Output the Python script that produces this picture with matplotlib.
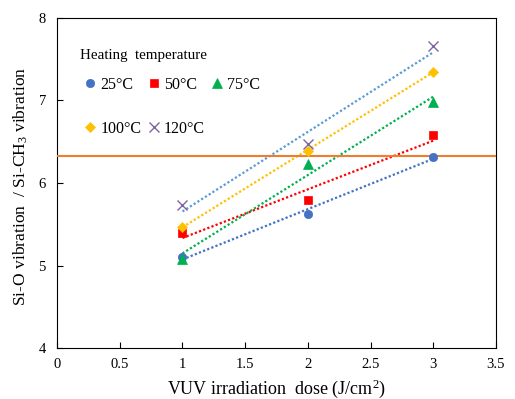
import numpy as np
import matplotlib
matplotlib.use("Agg")
import matplotlib.pyplot as plt

plt.rcParams['font.family'] = ['Liberation Serif', 'DejaVu Serif']
plt.rcParams['mathtext.fontset'] = 'custom'
plt.rcParams['mathtext.rm'] = 'Liberation Serif'
plt.rcParams['mathtext.it'] = 'Liberation Serif:italic'

dose = [1, 2, 3]
labels = ['25°C', '50°C', '75°C', '100°C', '120°C']
v25 = [5.10, 5.63, 6.32]
v50 = [5.40, 5.79, 6.58]
v75 = [5.08, 6.23, 6.98]
v100 = [5.47, 6.39, 7.35]
v120 = [5.73, 6.47, 7.66]
series = [v25, v50, v75, v100, v120]
ref_level = 6.33

marker_colors = ['#4472C4', '#FF0000', '#00B050', '#FFC000', '#8064A2']
trend_colors = ['#4472C4', '#FF0000', '#00B050', '#FFC000', '#5B9BD5']
markers = ['o', 's', '^', 'D', 'x']
msizes = [6, 5.5, 7, 5.5, 7]

fig = plt.figure(figsize=(5.15, 3.99), dpi=100)
ax = fig.add_axes([0.1107, 0.1278, 0.8524, 0.8271])

x = np.array(dose, dtype=float)
handles = []
for vals, lab, mc, tc, mk, ms in zip(series, labels, marker_colors, trend_colors, markers, msizes):
    # linear trendline through each series
    k, b = np.polyfit(x, vals, 1)
    ax.plot(x, k * x + b, color=tc, lw=1.6, linestyle=(0, (1, 1)), zorder=2)
    h, = ax.plot(x, vals, linestyle='none', marker=mk, color=mc, markersize=ms,
                 markeredgewidth=1.0 if mk == 'x' else 0.5, label=lab, zorder=4)
    handles.append(h)

ax.axhline(ref_level, color='#ED7D31', lw=1.5, zorder=3)

ax.set_xlim(0, 3.5)
ax.set_ylim(4, 8)
ax.set_xticks(np.arange(0, 3.51, 0.5))
ax.set_xticklabels(['0', '0.5', '1', '1.5', '2', '2.5', '3', '3.5'])
ax.set_yticks([4, 5, 6, 7, 8])
ax.tick_params(direction='in', length=4, width=0.8, labelsize=10.5)
ax.tick_params(axis='x', pad=7)
ax.tick_params(axis='y', pad=8)
for s in ax.spines.values():
    s.set_linewidth(0.8)

ax.set_xlabel('VUV irradiation  dose (J/cm$^2$)', fontsize=13, va='top')
ax.xaxis.set_label_coords(0.5, -0.088)
ax.set_ylabel('Si-O vibration  / Si-CH$_3$ vibration', fontsize=12.6)
ax.yaxis.set_label_coords(-0.062, 0.49)

# legend title drawn separately so the row gaps can differ
ax.text(0.052, 0.885, 'Heating  temperature', transform=ax.transAxes,
        fontsize=10.8, va='center', ha='left')
order = [0, 3, 1, 4, 2]
leg = ax.legend([handles[i] for i in order], [labels[i] for i in order],
                ncol=3, fontsize=11.5, frameon=False, loc='upper left',
                bbox_to_anchor=(0.021, 0.866), handlelength=1.2,
                handletextpad=0.05, columnspacing=0.15, labelspacing=1.75)

fig.savefig('out.png', dpi=100)
